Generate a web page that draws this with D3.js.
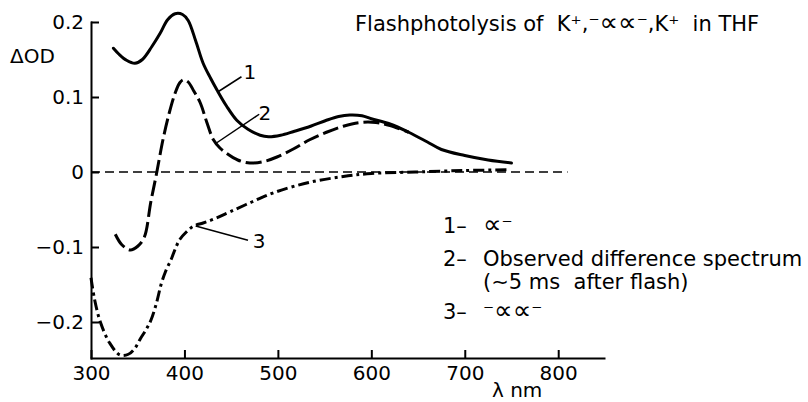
<!DOCTYPE html>
<html>
<head>
<meta charset="utf-8">
<script src="https://cdn.jsdelivr.net/npm/d3@7"></script>
<style>
body {
  margin: 0;
  background-color: white;
}
text {
  font-family: "DejaVu Sans", sans-serif;
  fill: black;
  white-space: pre;
}
.axis path,
.axis line {
  fill: none;
  stroke: black;
  stroke-width: 2px;
}
.axis text {
  font-size: 20px;
}
.big {
  font-size: 26px;
}
</style>
</head>
<body>
<script>

// wavelength ticks (nm) and ΔOD ticks
const nmTicks = [300, 400, 500, 600, 700, 800];
const odTicks = [0.2, 0.1, 0, -0.1, -0.2];
const odTickLabels = ["0.2", "0.1", "0", "\u22120.1", "\u22120.2"];

// curve 1: ∝⁻ (solid)
const curve1 = [
  [324, 0.165], [330, 0.157], [338, 0.149], [347, 0.145], [355, 0.150],
  [365, 0.167], [374, 0.185], [382, 0.203], [390, 0.211], [398, 0.210],
  [404, 0.202], [412, 0.175], [420, 0.145], [428, 0.125], [435, 0.109],
  [445, 0.088], [456, 0.069], [468, 0.057], [481, 0.049], [490, 0.047],
  [503, 0.049], [517, 0.054], [535, 0.061], [552, 0.069], [565, 0.074],
  [577, 0.076], [590, 0.075], [600, 0.071], [620, 0.064], [640, 0.053],
  [660, 0.040], [675, 0.030], [700, 0.022], [725, 0.016], [750, 0.012]
];

// curve 2: observed difference spectrum (long dashes)
const curve2 = [
  [326, -0.083], [333, -0.097], [342, -0.104], [350, -0.099], [357, -0.087],
  [364, -0.040], [370, -0.003], [377, 0.043], [384, 0.080], [390, 0.105],
  [395, 0.119], [399, 0.123], [404, 0.120], [410, 0.108], [417, 0.092],
  [424, 0.066], [431, 0.043], [438, 0.032], [445, 0.025], [457, 0.016],
  [470, 0.012], [485, 0.014], [499, 0.020], [517, 0.031], [534, 0.043],
  [552, 0.053], [570, 0.061], [588, 0.066], [605, 0.066], [620, 0.062],
  [640, 0.053]
];

// curve 3: ⁻∝∝⁻ (dash-dot)
const curve3 = [
  [300, -0.141], [304, -0.171], [310, -0.200], [320, -0.228], [331, -0.244],
  [340, -0.243], [347, -0.235], [353, -0.222], [359, -0.210], [364, -0.198],
  [370, -0.175], [375, -0.150], [380, -0.132], [386, -0.116], [390, -0.103],
  [395, -0.090], [402, -0.080], [410, -0.072], [420, -0.068], [433, -0.062],
  [449, -0.053], [472, -0.040], [497, -0.027], [533, -0.014], [570, -0.006],
  [600, -0.002], [647, 0.000], [700, 0.002], [748, 0.003]
];

const zeroLine = [[300, 0], [810, 0]];

// curve number call-outs: [from nm, from od, to nm, to od, label nm, label od, text]
const callouts = [
  [436, 0.107, 461, 0.127, 470, 0.134, "1"],
  [434.6, 0.039, 480, 0.077, 486, 0.079, "2"],
  [412, -0.072, 468, -0.091, 480, -0.092, "3"]
];

const svg = d3.select("body")
            .append("svg")
            .attr("width", 808)
            .attr("height", 402);

const xScale = d3.scaleLinear()
               .domain([300, 849])
               .range([91, 604]);

const yScale = d3.scaleLinear()
               .domain([-0.248, 0.2])
               .range([358, 22]);

const line = d3.line().curve(d3.curveCatmullRom.alpha(0.5))
               .x(d => xScale(d[0]))
               .y(d => yScale(d[1]));

// dashed zero line
svg.append("path").datum(zeroLine)
   .attr("fill", "none")
   .attr("stroke", "black")
   .attr("stroke-width", 1.6)
   .attr("stroke-dasharray", "9,5")
   .attr("d", d3.line().x(d => xScale(d[0])).y(d => yScale(d[1])));

svg.append("path").datum(curve1)
   .attr("fill", "none")
   .attr("stroke", "black")
   .attr("stroke-width", 3)
   .attr("stroke-linecap", "round")
   .attr("d", line);

svg.append("path").datum(curve2)
   .attr("fill", "none")
   .attr("stroke", "black")
   .attr("stroke-width", 3)
   .attr("stroke-dasharray", "16,5")
   .attr("d", line);

svg.append("path").datum(curve3)
   .attr("fill", "none")
   .attr("stroke", "black")
   .attr("stroke-width", 3)
   .attr("stroke-dasharray", "11,4,3,4")
   .attr("d", line);

// axes, ticks pointing inward
const xAxis = d3.axisBottom(xScale)
                .tickValues(nmTicks)
                .tickFormat(d3.format("d"))
                .tickSizeInner(-8)
                .tickSizeOuter(0)
                .tickPadding(8);

const yAxis = d3.axisLeft(yScale)
                .tickValues(odTicks)
                .tickFormat((d, i) => odTickLabels[i])
                .tickSizeInner(-8)
                .tickSizeOuter(0)
                .tickPadding(7);

svg.append("g")
   .attr("class", "axis")
   .attr("transform", `translate(0, ${yScale.range()[0]})`)
   .call(xAxis);

svg.append("g")
   .attr("class", "axis")
   .attr("transform", `translate(${xScale.range()[0]}, 0)`)
   .call(yAxis);

svg.selectAll(".axis .domain").attr("stroke-linecap", "square");

// call-outs
const co = svg.append("g");
co.selectAll("line").data(callouts).join("line")
  .attr("x1", d => xScale(d[0])).attr("y1", d => yScale(d[1]))
  .attr("x2", d => xScale(d[2])).attr("y2", d => yScale(d[3]))
  .attr("stroke", "black")
  .attr("stroke-width", 1.5);
co.selectAll("text").data(callouts).join("text")
  .attr("x", d => xScale(d[4])).attr("y", d => yScale(d[5]))
  .attr("dy", "0.36em")
  .attr("text-anchor", "middle")
  .style("font-size", "20px")
  .text(d => d[6]);

// axis titles
svg.append("text")
   .attr("x", 10).attr("y", 63)
   .style("font-size", "20px")
   .text("\u0394OD");

svg.append("text")
   .attr("x", 492).attr("y", 397)
   .style("font-size", "20px")
   .text("\u03bb nm");

// title; the ∝ glyphs are drawn larger, like the hand lettering
const title = svg.append("text")
   .attr("x", 355).attr("y", 31)
   .style("font-size", "21px");
title.append("tspan").text("Flashphotolysis of  K\u207a,\u207b");
title.append("tspan").attr("class", "big").text("\u221d\u221d");
title.append("tspan").text("\u207b,K\u207a  in THF");

// legend
const legendNums = ["1\u2013", "2\u2013", "", "3\u2013"];
const legendText = ["\u221d\u207b", "Observed difference spectrum", "(\u223c5 ms  after flash)", "\u207b\u221d\u221d\u207b"];
const legendY = [225, 258, 281, 311];

const lg = svg.append("g").style("font-size", "21px");
lg.selectAll("text.num").data(legendNums).join("text")
  .attr("class", "num")
  .attr("x", 443)
  .attr("y", (d, i) => legendY[i])
  .attr("dy", "0.36em")
  .text(d => d);
lg.selectAll("text.lab").data(legendText).join("text")
  .attr("class", "lab")
  .attr("x", 483)
  .attr("y", (d, i) => legendY[i])
  .attr("dy", "0.36em")
  .each(function(d) {
    // split so that the ∝ glyphs get the larger size
    const t = d3.select(this);
    d.split(/(\u221d+)/).filter(s => s.length).forEach(s => {
      t.append("tspan").attr("class", s[0] === "\u221d" ? "big" : null).text(s);
    });
  });

</script>
</body>
</html>
